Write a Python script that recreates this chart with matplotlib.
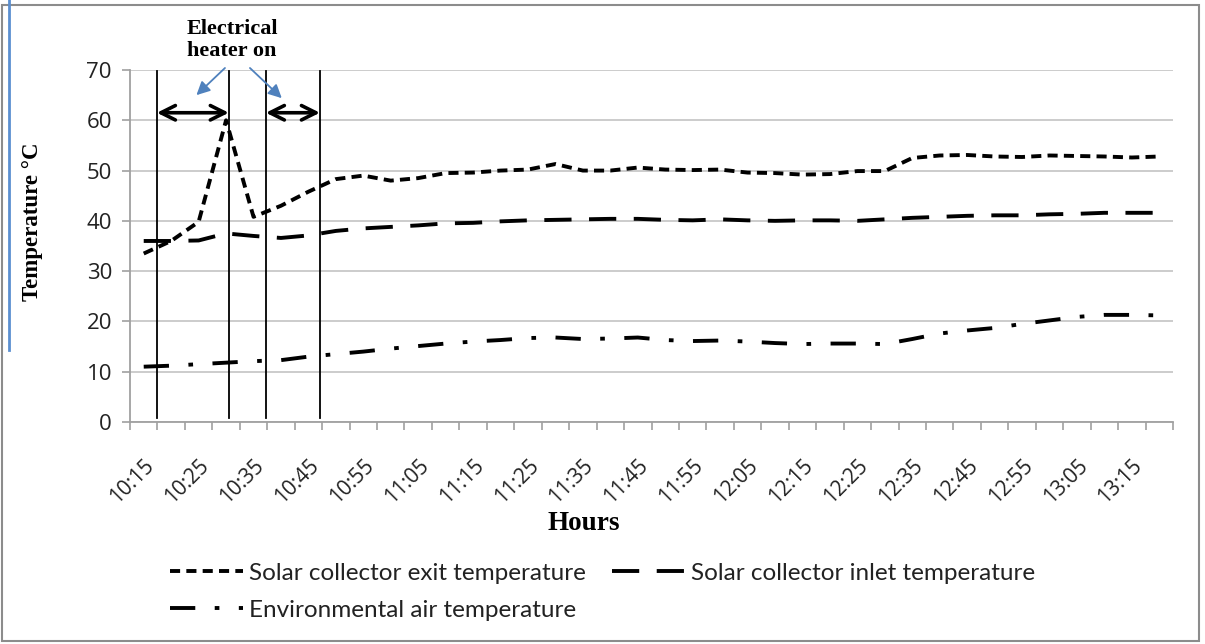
import numpy as np
import matplotlib
matplotlib.use("Agg")
import matplotlib.pyplot as plt
from matplotlib.patches import Rectangle
from matplotlib.lines import Line2D

# categories (5 min steps)
hours = ["10:15", "10:20", "10:25", "10:30", "10:35", "10:40", "10:45", "10:50",
         "10:55", "11:00", "11:05", "11:10", "11:15", "11:20", "11:25", "11:30",
         "11:35", "11:40", "11:45", "11:50", "11:55", "12:00", "12:05", "12:10",
         "12:15", "12:20", "12:25", "12:30", "12:35", "12:40", "12:45", "12:50",
         "12:55", "13:00", "13:05", "13:10", "13:15", "13:20"]

exit_temp = [33.5, 36.0, 39.8, 60.0, 40.8, 43.0, 45.8, 48.3, 49.0, 48.0,
             48.5, 49.5, 49.6, 50.0, 50.2, 51.3, 50.0, 50.0, 50.6, 50.2,
             50.1, 50.2, 49.6, 49.5, 49.2, 49.3, 49.9, 49.9, 52.5, 53.0,
             53.1, 52.8, 52.7, 53.0, 52.9, 52.8, 52.6, 52.8]

inlet_temp = [36.0, 36.0, 36.1, 37.5, 37.0, 36.6, 37.1, 38.0, 38.5, 38.8,
              39.1, 39.5, 39.6, 39.9, 40.1, 40.2, 40.3, 40.4, 40.4, 40.2,
              40.1, 40.3, 40.1, 40.0, 40.1, 40.1, 40.0, 40.3, 40.6, 40.8,
              41.0, 41.1, 41.1, 41.3, 41.4, 41.6, 41.6, 41.6]

env_temp = [11.0, 11.2, 11.5, 11.8, 12.1, 12.3, 13.0, 13.5, 14.0, 14.6,
            15.1, 15.6, 16.0, 16.3, 16.7, 16.8, 16.5, 16.6, 16.8, 16.3,
            16.1, 16.2, 16.0, 15.7, 15.5, 15.6, 15.6, 15.5, 16.5, 17.6,
            18.2, 18.7, 19.5, 20.2, 20.9, 21.3, 21.3, 21.2]

# heater annotation shapes (category units)
vlines_x = [0.48, 3.1, 4.45, 6.42]
spans = [(0.48, 3.1, 61.5), (4.45, 6.42, 61.5)]

fig = plt.figure(figsize=(12.05, 6.44), dpi=100)
ax = fig.add_axes([130/1205, 1-422/644, 1043/1205, 352/644])

x = np.arange(len(hours))
l_exit, = ax.plot(x, exit_temp, color="black", lw=2.8, dashes=(2.6, 1.6),
                  label="Solar collector exit temperature")
l_inlet, = ax.plot(x, inlet_temp, color="black", lw=2.8, dashes=(7, 4.5),
                   label="Solar collector inlet temperature")
l_env, = ax.plot(x, env_temp, color="black", lw=2.8, dashes=(6.5, 5, 1.2, 5),
                 label="Environmental air temperature")

ax.set_xlim(-0.5, len(hours) - 0.5)
ax.set_ylim(0, 70)
ax.set_yticks(range(0, 71, 10))
ax.yaxis.grid(True, color="#c8c8c8", lw=1.3)
ax.set_axisbelow(True)

ax.set_xticks(x[::2], hours[::2], rotation=45, ha="right", rotation_mode="anchor")
ax.set_xticks(np.arange(-0.5, len(hours)), minor=True)
ax.tick_params(axis="x", which="major", length=0, pad=24, labelsize=15)
ax.tick_params(axis="x", which="minor", length=6, width=1.2, color="#a0a0a0")
ax.tick_params(axis="y", length=6, width=1.2, color="#a0a0a0", pad=7, labelsize=16)
for lab in ax.get_xticklabels() + ax.get_yticklabels():
    lab.set_fontfamily("Open Sans")
    lab.set_color("#222222")

for s in ["top", "right"]:
    ax.spines[s].set_visible(False)
for s in ["left", "bottom"]:
    ax.spines[s].set_color("#a0a0a0")
    ax.spines[s].set_linewidth(1.3)

# heater markers
for vx in vlines_x:
    ax.plot([vx, vx], [0.8, 69.8], color="black", lw=1.3, clip_on=False)
for a, b, yy in spans:
    ax.annotate("", xy=(a, yy), xytext=(b, yy),
                arrowprops=dict(arrowstyle="<->", color="black", lw=2.6,
                                mutation_scale=26, shrinkA=0, shrinkB=0))
fig.text(232/1205, 1-40/644, "Electrical\nheater on", ha="center", va="center",
         fontsize=16, fontweight="bold", family="Liberation Serif", linespacing=1.1)
ax.annotate("", xy=(1.92, 65.0), xytext=(2.96, 70.4),
            arrowprops=dict(arrowstyle="-|>", color="#4f81bd", lw=1.3,
                            mutation_scale=20, shrinkA=0, shrinkB=0),
            annotation_clip=False)
ax.annotate("", xy=(5.03, 64.4), xytext=(3.87, 70.4),
            arrowprops=dict(arrowstyle="-|>", color="#4f81bd", lw=1.3,
                            mutation_scale=20, shrinkA=0, shrinkB=0),
            annotation_clip=False)

fig.text(584/1205, 1-523/644, "Hours", ha="center", va="center",
         fontsize=19.5, fontweight="bold", family="Liberation Serif")
fig.text(33/1205, 1-222/644, "Temperature °C", ha="center", va="center",
         rotation=90, fontsize=16.5, fontweight="bold", family="Liberation Serif")

leg = fig.legend([l_exit, l_env, l_inlet],
                 [l_exit.get_label(), l_env.get_label(), l_inlet.get_label()],
                 ncol=2, frameon=False, loc="upper left",
                 bbox_to_anchor=(160/1205, 1-553/644), handlelength=3.0,
                 columnspacing=1.1, labelspacing=0.65, handletextpad=0.25,
                 borderaxespad=0, prop={"family": "Lato", "size": 17.5})
for t in leg.get_texts():
    t.set_color("#222222")

# outer frame and left edge
fig.add_artist(Rectangle((2/1205, 3/644), 1197/1205, 636/644, fill=False,
                         edgecolor="#8c8c8c", lw=1.5, transform=fig.transFigure))
fig.add_artist(Line2D([9/1205, 9/1205], [1-350/644, 1.0], color="#5b8fd0", lw=2,
                      transform=fig.transFigure))

fig.savefig("out.png", dpi=100)
